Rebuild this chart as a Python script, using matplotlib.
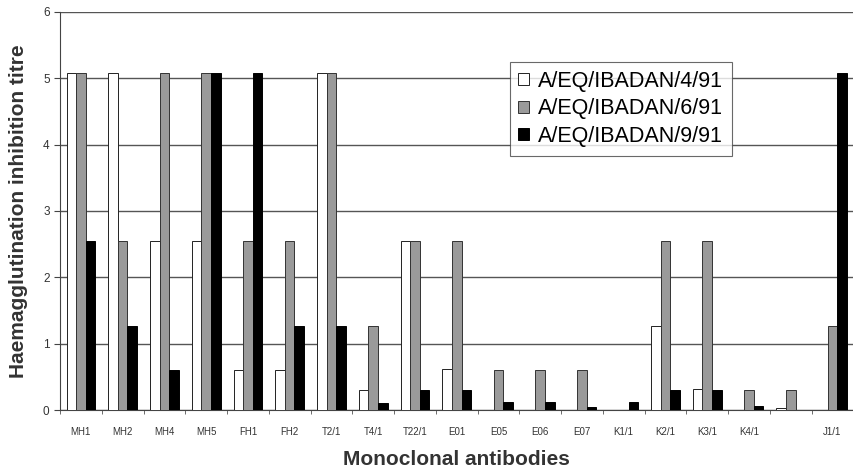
import numpy as np
import matplotlib.pyplot as plt

plt.rcParams['font.family'] = ['Liberation Sans', 'DejaVu Sans']

antibodies = ['MH1', 'MH2', 'MH4', 'MH5', 'FH1', 'FH2', 'T2/1', 'T4/1', 'T22/1', 'E01',
              'E05', 'E06', 'E07', 'K1/1', 'K2/1', 'K3/1', 'K4/1', '', 'J1/1']
ibadan_4 = [5.08, 5.08, 2.54, 2.54, 0.6, 0.6, 5.08, 0.3, 2.54, 0.62,
            0, 0, 0, 0, 1.27, 0.32, 0, 0.03, 0]
ibadan_6 = [5.08, 2.54, 5.08, 5.08, 2.54, 2.54, 5.08, 1.27, 2.54, 2.54,
            0.6, 0.6, 0.6, 0, 2.54, 2.54, 0.3, 0.3, 1.27]
ibadan_9 = [2.54, 1.27, 0.6, 5.08, 5.08, 1.27, 1.27, 0.1, 0.3, 0.3,
            0.12, 0.12, 0.04, 0.12, 0.3, 0.3, 0.06, 0, 5.08]
series_names = ['A/EQ/IBADAN/4/91', 'A/EQ/IBADAN/6/91', 'A/EQ/IBADAN/9/91']

fig = plt.figure(figsize=(8.54, 4.74), dpi=100)
ax = fig.add_axes([0.0703, 0.135, 0.929, 0.84])

x = np.arange(len(antibodies))
w = 0.23
ax.bar(x - w, ibadan_4, w, color='white', edgecolor='#222222', linewidth=0.7, label=series_names[0], zorder=3)
ax.bar(x, ibadan_6, w, color='#9a9a9a', edgecolor='#333333', linewidth=0.7, label=series_names[1], zorder=3)
ax.bar(x + w, ibadan_9, w, color='black', edgecolor='black', linewidth=0.7, label=series_names[2], zorder=3)

ax.set_xlim(-0.5, len(antibodies) - 0.5)
ax.set_ylim(0, 6)
ax.set_yticks(range(7))
ax.yaxis.grid(True, color='#555555', linewidth=1.0, zorder=0)
ax.set_axisbelow(True)

ax.set_xticks(x)
ax.set_xticklabels(antibodies, fontsize=7, color='#333333')
ax.set_xticks(np.arange(-0.5, len(antibodies)), minor=True)
ax.tick_params(axis='x', which='major', length=0, pad=12)
ax.tick_params(axis='x', which='minor', length=3, color='#555555')
ax.tick_params(axis='y', labelsize=8.5, length=4, color='#444444', labelcolor='#333333')

for side in ['top', 'right']:
    ax.spines[side].set_visible(False)
ax.spines['left'].set_color('#444444')
ax.spines['bottom'].set_color('#444444')

ax.set_ylabel('Haemagglutination inhibition titre', fontsize=15, fontweight='bold', color='#333333')
ax.yaxis.set_label_coords(-0.041, 0.5)
ax.set_xlabel('Monoclonal antibodies', fontsize=15, fontweight='bold', color='#333333')
ax.xaxis.set_label_coords(0.5, -0.1)

leg = ax.legend(loc='upper left', bbox_to_anchor=(0.567, 0.873), fontsize=15.5, frameon=True,
                fancybox=False, edgecolor='#444444', handlelength=0.47, handleheight=0.47,
                handletextpad=0.45, labelspacing=0.3, borderpad=0.4, borderaxespad=0)
leg.get_frame().set_linewidth(0.8)
leg.set_zorder(5)

fig.savefig('out.png', dpi=100)
